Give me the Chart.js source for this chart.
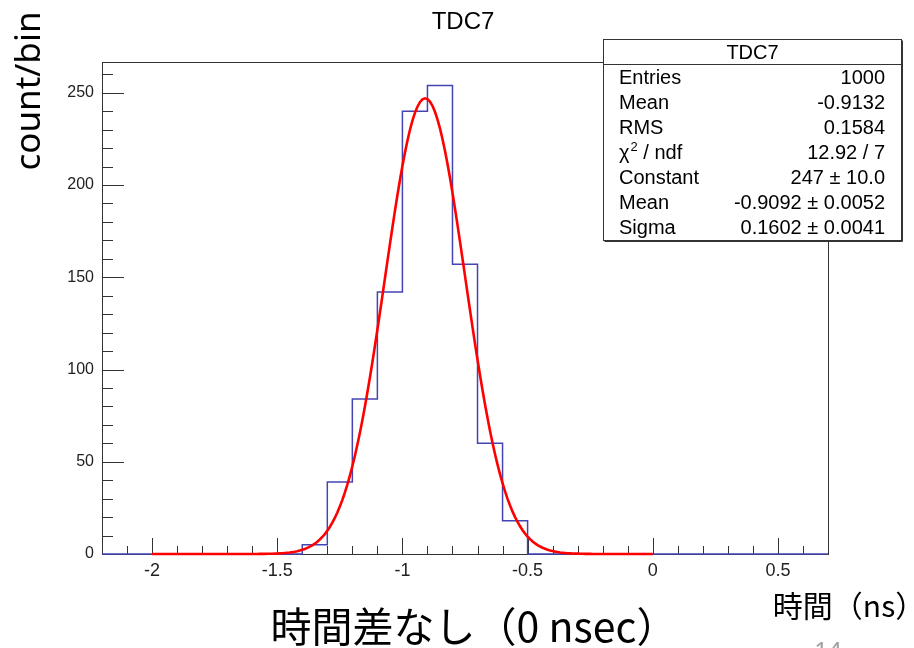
<!DOCTYPE html>
<html>
<head>
<meta charset="utf-8">
<script src="https://cdn.jsdelivr.net/npm/chart.js@4.4.1/dist/chart.umd.min.js"></script>
<style>
  html, body { margin: 0; padding: 0; background: #fff; }
  #wrap { position: relative; width: 914px; height: 648px; overflow: hidden; }
  canvas { display: block; }
</style>
</head>
<body>
<div id="wrap"><canvas id="tdc" width="914" height="648"></canvas></div>
<script>
// histogram TDC7: 29 bins of 0.1 ns from -2.2 to 0.7
const binLow = -2.2;
const binWidth = 0.1;
const counts = [0, 0, 0, 0, 0, 0, 0, 0, 5, 39, 84, 142, 240, 254, 157, 60, 18,
  0, 0, 0, 0, 0, 0, 0, 0, 0, 0, 0, 0];

// gaussian fit result
const fitConstant = 247;
const fitMean = -0.9092;
const fitSigma = 0.1602;
const fitRange = [-2, 0];

const xTickValues = [-2, -1.5, -1, -0.5, 0, 0.5];
const yTickValues = [0, 50, 100, 150, 200, 250];

const statLabels = ["Entries", "Mean", "RMS", "chi2", "Constant", "Mean", "Sigma"];
const statValues = ["1000", "-0.9132", "0.1584", "12.92 / 7", "247 \u00b1 10.0",
  "-0.9092 \u00b1 0.0052", "0.1602 \u00b1 0.0041"];

// outline points for the stepped histogram
const histPoints = counts.map((c, i) => ({ x: binLow + i * binWidth, y: c }));
histPoints.push({ x: binLow + counts.length * binWidth, y: counts[counts.length - 1] });

const fitPoints = [];
for (let i = 0; i <= 200; i++) {
  const x = fitRange[0] + (fitRange[1] - fitRange[0]) * i / 200;
  const z = (x - fitMean) / fitSigma;
  fitPoints.push({ x: x, y: fitConstant * Math.exp(-0.5 * z * z) });
}

const AXIS_FONT = '"Liberation Sans", Arial, sans-serif';

// frame and inward ticks, ROOT style
const framePlugin = {
  id: "frame",
  beforeDatasetsDraw(chart) {
    const { ctx, chartArea: a, scales } = chart;
    ctx.save();
    ctx.strokeStyle = "#333";
    ctx.lineWidth = 1;
    ctx.strokeRect(Math.round(a.left) + 0.5, Math.round(a.top) + 0.5,
      Math.round(a.right - a.left), Math.round(a.bottom - a.top));
    ctx.beginPath();
    for (let i = -22; i <= 7; i++) {
      const px = Math.round(scales.x.getPixelForValue(i / 10)) + 0.5;
      const len = i % 5 === 0 ? 16 : 8;
      ctx.moveTo(px, a.bottom);
      ctx.lineTo(px, a.bottom - len);
    }
    for (let j = 0; j <= 26; j++) {
      const py = Math.round(scales.y.getPixelForValue(j * 10)) + 0.5;
      const len = j % 5 === 0 ? 22 : 11;
      ctx.moveTo(a.left, py);
      ctx.lineTo(a.left + len, py);
    }
    ctx.stroke();
    ctx.restore();
  }
};

// title, stats box and slide captions
const textPlugin = {
  id: "texts",
  afterDraw(chart) {
    const ctx = chart.ctx;
    ctx.save();
    ctx.fillStyle = "#000";
    ctx.textAlign = "center";
    ctx.textBaseline = "middle";
    ctx.font = "24px " + AXIS_FONT;
    ctx.fillText("TDC7", 463, 22);

    // stats box
    const bx = 603.5, by = 39.5, bw = 298, bh = 201;
    ctx.fillStyle = "#fff";
    ctx.fillRect(bx, by, bw, bh);
    ctx.strokeStyle = "#333";
    ctx.lineWidth = 1;
    ctx.strokeRect(bx, by, bw, bh);
    ctx.beginPath();
    ctx.moveTo(bx + bw + 1, by + 1);
    ctx.lineTo(bx + bw + 1, by + bh + 1);
    ctx.lineTo(bx + 1, by + bh + 1);
    ctx.moveTo(bx, 64.5);
    ctx.lineTo(bx + bw, 64.5);
    ctx.stroke();

    ctx.fillStyle = "#000";
    ctx.font = "20px " + AXIS_FONT;
    ctx.fillText("TDC7", bx + bw / 2, 53);
    statLabels.forEach((label, k) => {
      const y = 78 + k * 25;
      ctx.textAlign = "left";
      if (label === "chi2") {
        ctx.font = "20px " + AXIS_FONT;
        ctx.fillText("\u03c7", 619, y);
        let w = ctx.measureText("\u03c7").width;
        ctx.font = "13px " + AXIS_FONT;
        ctx.fillText("2", 619 + w + 1, y - 6);
        w += ctx.measureText("2").width + 1;
        ctx.font = "20px " + AXIS_FONT;
        ctx.fillText(" / ndf", 619 + w, y);
      } else {
        ctx.font = "20px " + AXIS_FONT;
        ctx.fillText(label, 619, y);
      }
      ctx.textAlign = "right";
      ctx.fillText(statValues[k], 885, y);
    });

    // slide captions
    ctx.textAlign = "center";
    ctx.fillStyle = "#000";
    ctx.save();
    ctx.translate(30, 91);
    ctx.rotate(-Math.PI / 2);
    ctx.font = '35px "Noto Sans", sans-serif';
    ctx.fillText("count/bin", 0, 0);
    ctx.restore();

    ctx.font = '41px "Noto Sans CJK JP", sans-serif';
    ctx.fillText("時間差なし（0 nsec）", 474, 626);
    ctx.font = '30px "Noto Sans CJK JP", sans-serif';
    ctx.fillText("時間（ns）", 849, 606);
    ctx.fillStyle = "#a0a0a0";
    ctx.font = '24px "Noto Sans", sans-serif';
    ctx.fillText("14", 828, 652);
    ctx.restore();
  }
};

new Chart(document.getElementById("tdc"), {
  type: "line",
  data: {
    datasets: [
      {
        label: "TDC7",
        data: histPoints,
        borderColor: "#4444b4",
        borderWidth: 1.5,
        stepped: "before",
        pointRadius: 0,
        fill: false,
        clip: false,
        order: 2
      },
      {
        label: "gaus",
        data: fitPoints,
        borderColor: "#ff0000",
        borderWidth: 2.6,
        pointRadius: 0,
        tension: 0,
        fill: false,
        clip: false,
        order: 1
      }
    ]
  },
  options: {
    responsive: false,
    animation: false,
    devicePixelRatio: 1,
    layout: { padding: { top: 62, right: 86, left: 0, bottom: 0 } },
    plugins: { legend: { display: false }, tooltip: { enabled: false } },
    scales: {
      x: {
        type: "linear",
        min: -2.2,
        max: 0.7,
        grid: { display: false, drawTicks: false },
        border: { display: false },
        afterBuildTicks: (scale) => { scale.ticks = xTickValues.map((v) => ({ value: v })); },
        afterFit: (scale) => { scale.height = 94; },
        ticks: {
          padding: 6, color: "#222", maxRotation: 0,
          font: { family: AXIS_FONT, size: 18 },
          callback: (v) => String(v)
        }
      },
      y: {
        type: "linear",
        min: 0,
        max: 266.7,
        grid: { display: false, drawTicks: false },
        border: { display: false },
        afterBuildTicks: (scale) => { scale.ticks = yTickValues.map((v) => ({ value: v })); },
        afterFit: (scale) => { scale.width = 102; },
        ticks: {
          padding: 8, color: "#222",
          font: { family: AXIS_FONT, size: 16 },
          callback: (v) => String(v)
        }
      }
    }
  },
  plugins: [framePlugin, textPlugin]
});
</script>
</body>
</html>
